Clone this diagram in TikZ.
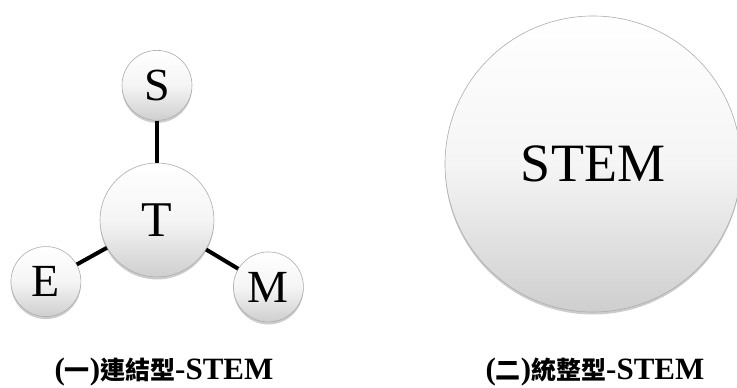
\documentclass[tikz,border=0pt]{standalone}
\usepackage{fontspec}
\setmainfont{Liberation Serif}
\newfontfamily\cjkfont{Noto Sans CJK TC}
\newcommand{\zh}[1]{{\cjkfont\fontsize{25}{30}\selectfont #1}}
\usetikzlibrary{positioning, calc, shadows}

\begin{document}
\begin{tikzpicture}[
    x=1pt, y=1pt,
    ball/.style={
        circle,
        draw=gray!65,
        line width=0.6pt,
        top color=white,
        bottom color=gray!38,
        middle color=gray!8,
        drop shadow={opacity=0.4, shadow xshift=0pt, shadow yshift=-2.5pt},
        inner sep=0pt,
        align=center
    },
    small/.style={
        ball,
        minimum size=70pt,
        font=\fontsize{46}{50}\selectfont
    },
    link/.style={
        line width=4pt,
        black
    },
    caption/.style={
        font=\fontsize{31}{34}\selectfont\bfseries
    }
]
\useasboundingbox (0,0) rectangle (737,388);

% Balls
\node[ball, minimum size=114pt, font=\fontsize{50}{54}\selectfont] (T) at (157,168) {T};
\node[small, above=42pt of T] (S) {S};
\node[small] (E) at ($(T)+(209:127pt)$) {E};
\node[small] (M) at ($(T)+(-31:130pt)$) {M};

% Links
\draw[link] (S) -- (T);
\draw[link] (E) -- (T);
\draw[link] (M) -- (T);

% Whole
\node[ball, minimum size=296pt, font=\fontsize{54}{58}\selectfont] (stem) at (593,224) {STEM};

% Captions
\node[caption] (cap1) at (164,16) {(\zh{一})\zh{連結型}-STEM};
\node[caption] (cap2) at (595,16) {(\zh{二})\zh{統整型}-STEM};

\end{tikzpicture}
\end{document}
